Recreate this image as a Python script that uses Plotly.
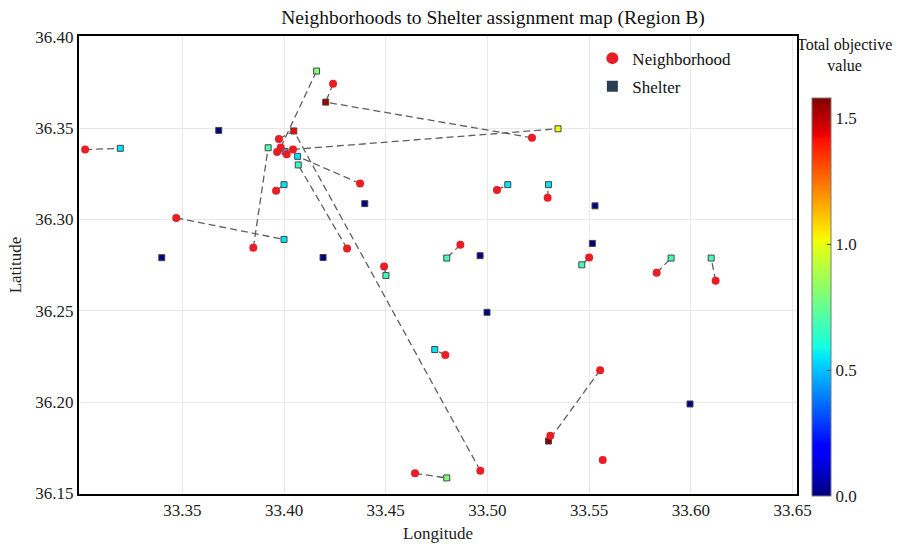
import plotly.graph_objects as go

# ---------------- data ----------------
# Shelters: longitude, latitude, total objective value
sh_lon = [33.3195, 33.3922, 33.4160, 33.4205, 33.4048, 33.4005, 33.4067, 33.4070,
          33.4000, 33.4000, 33.5347, 33.5100, 33.5300, 33.4800, 33.5464, 33.5903,
          33.6100, 33.4501, 33.4741, 33.4800, 33.5300,
          33.3679, 33.3399, 33.4192, 33.4397, 33.4964, 33.4998, 33.5529, 33.5516, 33.5996]
sh_lat = [36.3390, 36.3393, 36.3813, 36.3643, 36.3485, 36.3373, 36.3346, 36.3299,
          36.3191, 36.2891, 36.3497, 36.3191, 36.3191, 36.2789, 36.2752, 36.2789,
          36.2789, 36.2694, 36.2288, 36.1585, 36.1787,
          36.3488, 36.2791, 36.2792, 36.3087, 36.2802, 36.2492, 36.3075, 36.2869, 36.1990]
sh_value = [0.55, 0.70, 0.80, 1.53, 1.42, 0.50, 0.55, 0.65,
            0.55, 0.55, 1.00, 0.55, 0.55, 0.68, 0.68, 0.68,
            0.68, 0.66, 0.55, 0.80, 1.58,
            0.0, 0.0, 0.0, 0.0, 0.0, 0.0, 0.0, 0.0, 0.0]

# Neighborhoods: longitude, latitude, index of assigned shelter (-1 = none)
nb_lon = [33.3022, 33.3470, 33.3849, 33.3975, 33.3984, 33.3966, 33.4013, 33.4044,
          33.4241, 33.5219, 33.4965, 33.4310, 33.4374, 33.3961, 33.5047, 33.5296,
          33.4867, 33.5500, 33.5832, 33.6122, 33.4492, 33.4793, 33.4644, 33.5554,
          33.5309, 33.5567]
nb_lat = [36.3383, 36.3009, 36.2845, 36.3441, 36.3395, 36.3370, 36.3357, 36.3384,
          36.3743, 36.3448, 36.1625, 36.2841, 36.3197, 36.3157, 36.3162, 36.3119,
          36.2862, 36.2792, 36.2709, 36.2665, 36.2743, 36.2258, 36.1610, 36.2175,
          36.1816, 36.1683]
nb_assign = [0, 9, 1, 4, 2, 5, 5, 10,
             3, 3, 4, 7, 6, 8, 11, 12,
             13, 14, 15, 16, 17, 18, 19, 20,
             20, -1]

x_ticks = [33.35, 33.40, 33.45, 33.50, 33.55, 33.60, 33.65]
y_ticks = [36.15, 36.20, 36.25, 36.30, 36.35, 36.40]
cb_ticks = [0.0, 0.5, 1.0, 1.5]

# ---------------- figure ----------------
FONT = "Liberation Serif, Times New Roman, serif"

jet = [
    [0.0, "rgb(0,0,128)"], [0.11, "rgb(0,0,255)"], [0.125, "rgb(0,0,255)"],
    [0.34, "rgb(0,219,255)"], [0.35, "rgb(0,230,247)"], [0.375, "rgb(21,255,226)"],
    [0.5, "rgb(123,255,123)"], [0.64, "rgb(238,255,8)"], [0.66, "rgb(255,236,0)"],
    [0.89, "rgb(255,19,0)"], [0.91, "rgb(232,0,0)"], [1.0, "rgb(128,0,0)"],
]

lx, ly = [], []
for i, j in enumerate(nb_assign):
    if j < 0:
        continue
    lx += [nb_lon[i], sh_lon[j], None]
    ly += [nb_lat[i], sh_lat[j], None]

fig = go.Figure()
fig.add_trace(go.Scatter(
    x=lx, y=ly, mode="lines", showlegend=False, hoverinfo="skip",
    line=dict(color="rgb(95,95,95)", width=1.3, dash="7px,4px"),
))
fig.add_trace(go.Scatter(
    x=sh_lon, y=sh_lat, mode="markers", showlegend=False,
    marker=dict(symbol="square", size=6, color=sh_value, colorscale=jet,
                cmin=0, cmax=1.58,
                line=dict(color="rgb(70,70,70)", width=1),
                colorbar=dict(
                    x=1.021, xanchor="left", xpad=0, ypad=0,
                    y=-0.0044, yanchor="bottom",
                    len=0.869, lenmode="fraction", thickness=19,
                    outlinecolor="rgb(120,120,120)", outlinewidth=1,
                    tickvals=cb_ticks, ticktext=[f"{v:.1f}" for v in cb_ticks],
                    ticks="inside", ticklen=4, tickcolor="rgb(60,60,60)",
                    tickfont=dict(family=FONT, size=17, color="#222"),
                )),
))
fig.add_trace(go.Scatter(
    x=nb_lon, y=nb_lat, mode="markers", showlegend=False,
    marker=dict(symbol="circle", size=8, color="rgb(232,30,38)", line=dict(width=0)),
))
# legend entries
fig.add_trace(go.Scatter(
    x=[None], y=[None], mode="markers", name="Neighborhood", legendgroup="a",
    marker=dict(symbol="circle", size=12, color="rgb(232,30,38)"),
))
fig.add_trace(go.Scatter(
    x=[None], y=[None], mode="markers", name="Shelter", legendgroup="b",
    marker=dict(symbol="square", size=11, color="rgb(44,62,84)"),
))

axis_common = dict(
    showgrid=True, gridcolor="rgb(232,232,232)", gridwidth=1,
    showline=True, linecolor="black", linewidth=2, mirror=True,
    zeroline=False, ticks="", automargin=False,
    tickfont=dict(family=FONT, size=17, color="#222"),
)

fig.update_layout(
    width=908, height=548,
    margin=dict(l=79, r=111, t=36, b=54, autoexpand=False),
    paper_bgcolor="white", plot_bgcolor="white",
    font=dict(family=FONT, color="#222"),
    title=dict(text="Neighborhoods to Shelter assignment map (Region B)",
               x=0.543, xanchor="center", y=0.968, yanchor="middle",
               font=dict(family=FONT, size=19.5, color="#111")),
    xaxis=dict(range=[33.2992, 33.6522], tickvals=x_ticks,
               ticktext=[f"{v:.2f}" for v in x_ticks],
               title=dict(text="Longitude", font=dict(family=FONT, size=17), standoff=8),
               **axis_common),
    yaxis=dict(range=[36.1497, 36.4005], tickvals=y_ticks,
               ticktext=[f"{v:.2f}" for v in y_ticks],
               title=dict(text="Latitude", font=dict(family=FONT, size=17), standoff=9),
               **axis_common),
    legend=dict(x=0.715, y=0.99, xanchor="left", yanchor="top",
                bgcolor="rgba(255,255,255,0)", tracegroupgap=3,
                font=dict(family=FONT, size=17, color="#111")),
    annotations=[dict(
        text="Total objective<br>value", xref="paper", yref="paper",
        x=1.066, y=1.005, xanchor="center", yanchor="top", showarrow=False,
        font=dict(family=FONT, size=16, color="#111"),
    )],
)

fig.write_html("out.html")
